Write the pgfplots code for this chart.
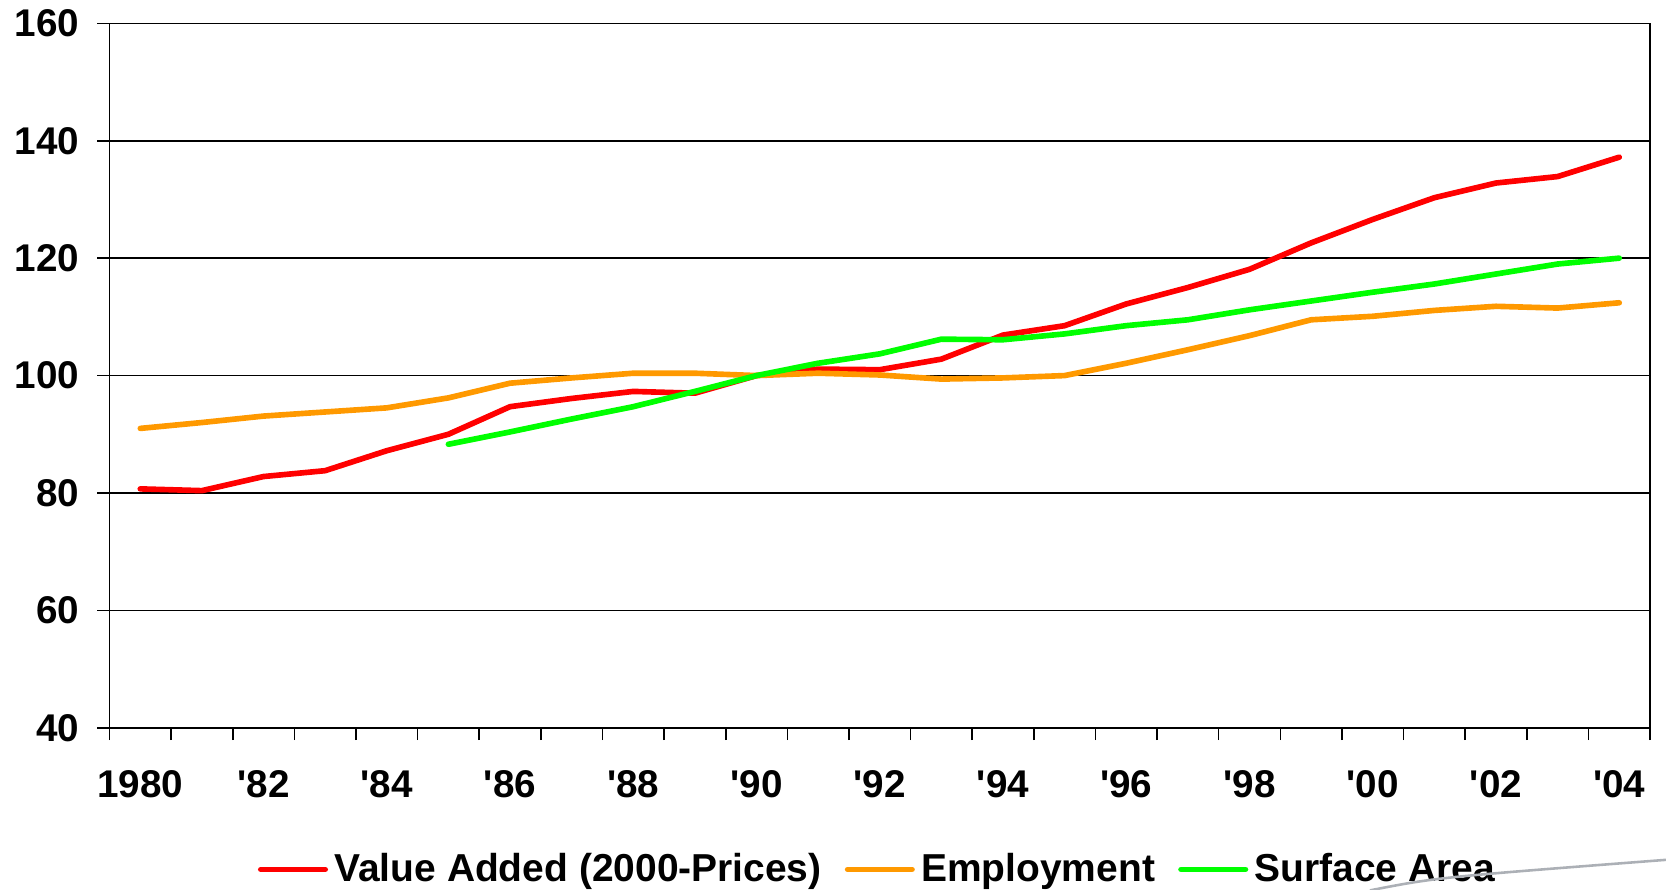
\documentclass[border=0pt]{standalone}
\usepackage{pgfplots}
\pgfplotsset{compat=1.18}
\usepackage{fontspec}
\setmainfont{Liberation Sans}

\definecolor{vaRed}{RGB}{255,0,0}
\definecolor{empOrange}{RGB}{255,153,0}
\definecolor{areaGreen}{RGB}{0,255,0}
\definecolor{swoosh}{RGB}{172,176,182}

% Indices, 1990 = 100 (x = years since 1980)
\pgfplotstableread{
x  va     emp
0  80.7   91.0
1  80.4   92.0
2  82.8   93.1
3  83.8   93.8
4  87.2   94.5
5  90.0   96.2
6  94.7   98.7
7  96.1   99.6
8  97.3  100.4
9  97.0  100.4
10 100.0 100.0
11 101.1 100.4
12 101.0 100.1
13 102.8  99.4
14 106.9  99.6
15 108.5 100.0
16 112.2 102.1
17 115.0 104.4
18 118.1 106.8
19 122.6 109.5
20 126.6 110.1
21 130.3 111.1
22 132.8 111.8
23 133.9 111.5
24 137.2 112.4
}\mainseries

\pgfplotstableread{
x  area
5  88.3
6  90.4
7  92.6
8  94.7
9  97.3
10 100.0
11 102.1
12 103.7
13 106.2
14 106.1
15 107.1
16 108.5
17 109.5
18 111.2
19 112.7
20 114.2
21 115.6
22 117.3
23 119.0
24 120.0
}\areaseries

\begin{document}
\begin{tikzpicture}
\path[use as bounding box] (-34.0pt,-50.16pt) rectangle (483.45pt,226.05pt);
\begin{axis}[
  at={(0pt,0pt)}, anchor=south west,
  width=478.5pt, height=218.8pt, scale only axis,
  xmin=-0.5, xmax=24.5,
  ymin=40, ymax=160,
  ytick={40,60,...,160},
  xtick={-0.5,0.5,...,24.5},
  xticklabels={},
  extra x ticks={0,2,...,24},
  extra x tick labels={1980,{\textquotesingle}82,{\textquotesingle}84,{\textquotesingle}86,{\textquotesingle}88,{\textquotesingle}90,{\textquotesingle}92,{\textquotesingle}94,{\textquotesingle}96,{\textquotesingle}98,{\textquotesingle}00,{\textquotesingle}02,{\textquotesingle}04},
  extra x tick style={major tick length=0pt, grid=none,
    tick label style={yshift=-9.6pt}},
  xtick pos=bottom, ytick pos=left,
  tick align=outside,
  major tick length=3.8pt,
  ymajorgrids,
  grid style={black, line width=0.5pt},
  axis line style={black, line width=0.5pt},
  tick style={black, line width=0.5pt},
  /pgf/number format/assume math mode=true,
  tick label style={font=\fontsize{12}{14}\selectfont\bfseries},
  yticklabel style={xshift=-2pt},
  legend style={at={(0.5,-0.201)}, anchor=center, draw=none, fill=none,
    font=\fontsize{12.1}{14}\selectfont\bfseries,
    legend columns=3,
    /tikz/every even column/.append style={column sep=5.2pt}},
  legend image code/.code={\draw[#1] (0pt,0pt) -- (20pt,0pt);},
  every axis plot/.append style={line width=1.75pt, line cap=round, line join=round},
]
\addplot[color=vaRed] table[x=x, y=va] {\mainseries};
\addlegendentry{Value Added (2000-Prices)}
\addplot[color=empOrange] table[x=x, y=emp] {\mainseries};
\addlegendentry{Employment}
\addplot[color=areaGreen] table[x=x, y=area] {\areaseries};
\addlegendentry{Surface Area}
\end{axis}
\draw[swoosh, line width=0.8pt] (391.5pt,-50.5pt) .. controls (412pt,-46.5pt) .. (483.6pt,-41.0pt);
\end{tikzpicture}
\end{document}
